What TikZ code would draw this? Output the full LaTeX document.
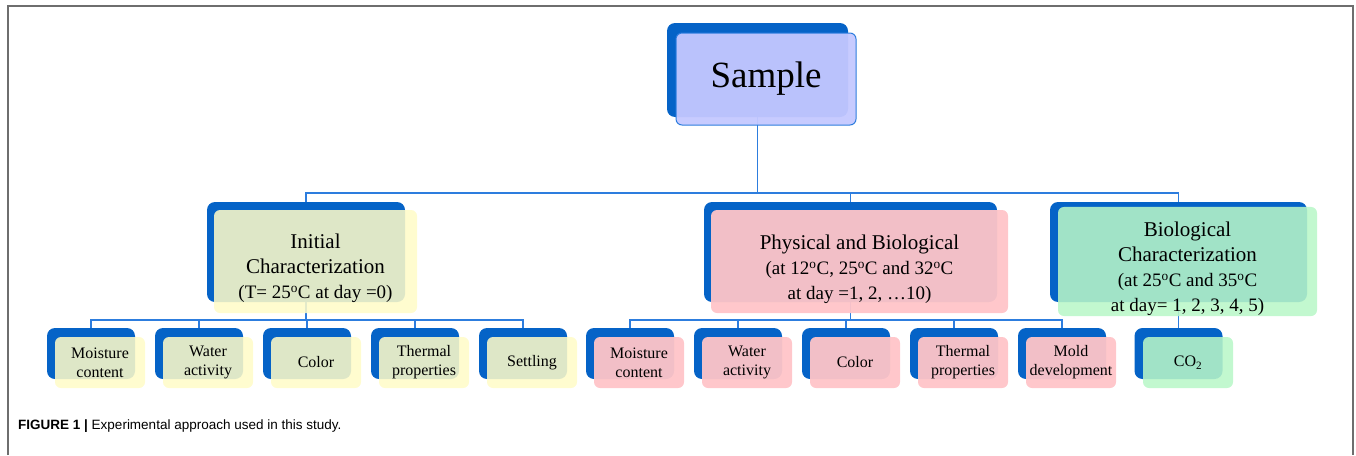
\documentclass[tikz,border=0pt]{standalone}
\usepackage{fontspec}
\setmainfont{Liberation Serif}
\newfontfamily\capfont{Liberation Sans}
\usetikzlibrary{positioning}
\definecolor{backblue}{RGB}{5,99,199}
\definecolor{linkblue}{RGB}{45,125,222}
\definecolor{framegray}{RGB}{110,110,110}
\definecolor{samplefill}{RGB}{196,200,255}
\definecolor{yellowfill}{RGB}{255,251,200}
\definecolor{pinkfill}{RGB}{255,196,200}
\definecolor{greenfill}{RGB}{185,247,200}
\newcommand{\lowerby}[1]{\rule{0pt}{#1}}

\begin{document}
\begin{tikzpicture}[x=1pt, y=-1pt,
    back/.style={fill=backblue, rounded corners=8pt, inner sep=0pt},
    front/.style={rounded corners=6pt, inner sep=0pt, align=center, fill opacity=0.88, text opacity=1},
    yellowbox/.style={fill=yellowfill, fill opacity=0.87},
    pinkbox/.style={fill=pinkfill, fill opacity=0.95},
    greenbox/.style={fill=greenfill, fill opacity=0.87},
    midback/.style={back, minimum height=100pt},
    midfront/.style={front, minimum height=103pt, font=\fontsize{21}{25}\selectfont},
    smallback/.style={back, minimum width=88pt, minimum height=51pt},
    smallfront/.style={front, minimum width=90pt, minimum height=51pt, font=\fontsize{16}{19}\selectfont},
    link/.style={draw=linkblue, line width=1.2pt}]
            \useasboundingbox (0,0) rectangle (1356,455);
            \draw[framegray, line width=1.4pt] (8,455) -- (8,6) -- (1353,6) -- (1353,455);
            % blue backs
            \node[back, minimum width=181pt, minimum height=94pt] (sampleBack) at (757.5,70) {};
            \node[midback, minimum width=198pt] (initBack) at (306,252) {};
            \node[midback, minimum width=293pt] (physBack) at (850.5,252) {};
            \node[midback, minimum width=257pt] (bioBack) at (1178.5,252) {};
            \node[smallback] (initMoistBack) at (91,353.5) {};
            \node[smallback] (initWaterBack) at (199,353.5) {};
            \node[smallback] (initColorBack) at (307,353.5) {};
            \node[smallback] (initThermBack) at (415,353.5) {};
            \node[smallback] (initSettleBack) at (523,353.5) {};
            \node[smallback] (physMoistBack) at (630,353.5) {};
            \node[smallback] (physWaterBack) at (738,353.5) {};
            \node[smallback] (physColorBack) at (846,353.5) {};
            \node[smallback] (physThermBack) at (954,353.5) {};
            \node[smallback] (physMoldBack) at (1062,353.5) {};
            \node[smallback] (bioCoBack) at (1178.5,353.5) {};
            % connectors
            \coordinate (busTop) at (0,193);
            \coordinate (busLow) at (0,320);
            \draw[link] (sampleBack.south) -- (sampleBack.south |- busTop);
            \draw[link] (initBack.north) -- (initBack.north |- busTop) -- (bioBack.north |- busTop) -- (bioBack.north);
            \draw[link] (physBack.north) -- (physBack.north |- busTop);
            \draw[link] (initBack.south) -- (initBack.south |- busLow);
            \draw[link] (initMoistBack.north) -- (initMoistBack.north |- busLow) -- (initSettleBack.north |- busLow) -- (initSettleBack.north);
            \draw[link] (initWaterBack.north) -- (initWaterBack.north |- busLow);
            \draw[link] (initColorBack.north) -- (initColorBack.north |- busLow);
            \draw[link] (initThermBack.north) -- (initThermBack.north |- busLow);
            \draw[link] (physBack.south) -- (physBack.south |- busLow);
            \draw[link] (physMoistBack.north) -- (physMoistBack.north |- busLow) -- (physMoldBack.north |- busLow) -- (physMoldBack.north);
            \draw[link] (physWaterBack.north) -- (physWaterBack.north |- busLow);
            \draw[link] (physColorBack.north) -- (physColorBack.north |- busLow);
            \draw[link] (physThermBack.north) -- (physThermBack.north |- busLow);
            \draw[link] (bioBack.south) -- (bioCoBack.north);
            % light fronts
            \node[front, fill=samplefill, fill opacity=0.95, draw=linkblue, line width=1pt, minimum width=180pt, minimum height=92pt, font=\fontsize{37}{40}\selectfont] (sample) at (766,79) {Sample};
            \node[midfront, yellowbox, minimum width=203pt] (init) at (315.5,261.5) {\lowerby{29pt}Initial\\Characterization\\{\fontsize{19}{25}\selectfont(T= 25\textsuperscript{o}C at day =0)}};
            \node[midfront, pinkbox, minimum width=297pt] (phys) at (859.5,261.5) {\lowerby{30pt}Physical and Biological\\{\fontsize{19}{24}\selectfont(at 12\textsuperscript{o}C, 25\textsuperscript{o}C and 32\textsuperscript{o}C}\\{\fontsize{19}{22}\selectfont at day =1, 2, \ldots10)}};
            \node[midfront, greenbox, minimum width=259pt] (bio) at (1187.5,261.5) {\lowerby{30pt}Biological\\Characterization\\{\fontsize{19}{24}\selectfont(at 25\textsuperscript{o}C and 35\textsuperscript{o}C}\\{\fontsize{19}{22}\selectfont at day= 1, 2, 3, 4, 5)}};
            \node[smallfront, yellowbox] (initMoist) at (100,362.5) {Moisture\\content};
            \node[smallfront, yellowbox] (initWater) at (208,362.5) {Water\\activity};
            \node[smallfront, yellowbox] (initColor) at (316,362.5) {Color};
            \node[smallfront, yellowbox] (initTherm) at (424,362.5) {Thermal\\properties};
            \node[smallfront, yellowbox] (initSettle) at (532,362.5) {Settling};
            \node[smallfront, pinkbox] (physMoist) at (639,362.5) {Moisture\\content};
            \node[smallfront, pinkbox] (physWater) at (747,362.5) {Water\\activity};
            \node[smallfront, pinkbox] (physColor) at (855,362.5) {Color};
            \node[smallfront, pinkbox] (physTherm) at (963,362.5) {Thermal\\properties};
            \node[smallfront, pinkbox] (physMold) at (1071,362.5) {Mold\\development};
            \node[smallfront, greenbox] (bioCo) at (1188,362.5) {CO\textsubscript{2}};
            % caption
            \node[anchor=west, inner sep=0pt, font=\capfont\fontsize{13.5}{16}\selectfont] (caption) at (18,426) {\textbf{FIGURE 1 |} Experimental approach used in this study.};
        \end{tikzpicture}
\end{document}
